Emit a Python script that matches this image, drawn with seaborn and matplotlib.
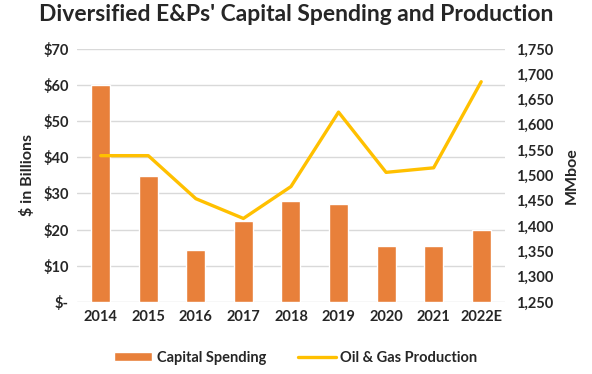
import seaborn as sns
import matplotlib.pyplot as plt
import numpy as np
import pandas as pd

years = ["2014", "2015", "2016", "2017", "2018", "2019", "2020", "2021", "2022E"]
capex = [60.0, 34.9, 14.5, 22.4, 28.0, 27.2, 15.5, 15.5, 20.0]
production = [1539, 1539, 1454, 1415, 1478, 1625, 1506, 1515, 1685]

left_ticks = [0, 10, 20, 30, 40, 50, 60, 70]
right_ticks = list(range(1250, 1751, 50))

sns.set_style("white")
plt.rcParams["font.family"] = ["Lato", "DejaVu Sans"]
plt.rcParams["font.weight"] = "bold"

df = pd.DataFrame({"year": years, "capex": capex, "prod": production})

fig = plt.figure(figsize=(5.92, 3.74), dpi=100)
ax = fig.add_axes([0.130, 0.1925, 0.723, 0.677])

sns.barplot(data=df, x="year", y="capex", color="#E8803A", width=0.4,
            saturation=1, ax=ax, label="Capital Spending", zorder=2)
ax.set_ylim(0, 70)
ax.set_yticks(left_ticks)
ax.set_yticklabels(["$-" if v == 0 else f"${v}" for v in left_ticks])
ax.grid(axis="y", color="#D9D9D9", linewidth=1, zorder=0)
ax.set_axisbelow(True)
ax.set_xlabel("")
ax.set_ylabel("$ in Billions", fontsize=11.5, fontweight="bold", labelpad=6)
ax.tick_params(axis="both", length=0, labelsize=10.5, pad=6)
ax.set_xlim(-0.5, len(years) - 0.5)
for s in ax.spines.values():
    s.set_visible(False)

ax2 = ax.twinx()
sns.lineplot(x=np.arange(len(years)), y=df["prod"], color="#FFC000",
             linewidth=2.4, ax=ax2, label="Oil & Gas Production", legend=False)
ax2.set_ylim(1250, 1750)
ax2.set_yticks(right_ticks)
ax2.set_yticklabels([f"{v:,}" for v in right_ticks])
ax2.set_ylabel("MMboe", fontsize=11.5, fontweight="bold", labelpad=8)
ax2.tick_params(axis="y", length=0, labelsize=10.5, pad=8)
for s in ax2.spines.values():
    s.set_visible(False)
ax2.set_xlim(-0.5, len(years) - 0.5)

fig.suptitle("Diversified E&Ps' Capital Spending and Production",
             fontsize=16.5, fontweight="bold", y=0.99)

h1, l1 = ax.get_legend_handles_labels()
h2, l2 = ax2.get_legend_handles_labels()
if ax.get_legend():
    ax.get_legend().remove()
fig.legend(h1 + h2, l1 + l2, loc="lower center", ncol=2, frameon=False,
           fontsize=10.5, bbox_to_anchor=(0.5, -0.01), columnspacing=2.2,
           handlelength=2.6, handletextpad=0.3, handleheight=0.6)

fig.savefig("out.png", dpi=100)
plt.close(fig)
